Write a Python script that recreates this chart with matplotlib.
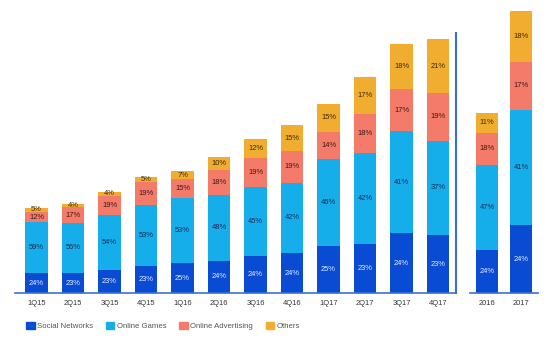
from matplotlib import pyplot as plt
import numpy as np

# quarterly revenue (RMB bn) and segment shares in %
quarters = ['1Q15', '2Q15', '3Q15', '4Q15', '1Q16', '2Q16', '3Q16', '4Q16',
            '1Q17', '2Q17', '3Q17', '4Q17']
q_total = [22.4, 23.4, 26.6, 30.5, 32.0, 35.7, 40.3, 43.9, 49.6, 56.6, 65.2, 66.4]
q_social = [24, 23, 23, 23, 25, 24, 24, 24, 25, 23, 24, 23]
q_games = [59, 56, 54, 53, 53, 48, 45, 42, 46, 42, 41, 37]
q_ads = [12, 17, 19, 19, 15, 18, 19, 19, 14, 18, 17, 19]
q_others = [5, 4, 4, 5, 7, 10, 12, 15, 15, 17, 18, 21]

years = ['2016', '2017']
y_total = [151.9, 237.8]
y_social = [24, 24]
y_games = [47, 41]
y_ads = [18, 17]
y_others = [11, 18]

names = ['Social Networks', 'Online Games', 'Online Advertising', 'Others']
colors = ['#0a4bd4', '#16aeea', '#f47b69', '#f1ad2f']
text_colors = ['#e6eeff', '#1b2b55', '#3a1a14', '#3a2a0a']
line_col = '#3a6fd2'
font = 'Liberation Sans'


def stacked(ax, labels, total, shares, width):
    x = np.arange(len(labels))
    bottom = np.zeros(len(labels))
    total = np.array(total)
    for s, c, tc in zip(shares, colors, text_colors):
        h = total * np.array(s) / 100.0
        ax.bar(x, h, width, bottom=bottom, color=c, linewidth=0)
        for xi, bi, hi, si in zip(x, bottom, h, s):
            ax.text(xi, bi + hi / 2, '%d%%' % si, ha='center', va='center',
                    fontsize=5.4, color=tc, family=font)
        bottom += h
    ax.set_xticks(x)
    ax.set_xticklabels(labels, fontsize=5.4, color='#333333', family=font)
    ax.tick_params(axis='x', length=0, pad=4.5)
    ax.set_yticks([])
    for sp in ['top', 'right', 'left']:
        ax.spines[sp].set_visible(False)
    ax.spines['bottom'].set_color(line_col)
    ax.spines['bottom'].set_linewidth(1.2)
    ax.set_facecolor('none')


fig = plt.figure(figsize=(5.58, 3.48), dpi=100)
base = (348 - 293.3) / 348
h = 293.3 / 348

ax1 = fig.add_axes([15 / 558, base, 441 / 558, h])
stacked(ax1, quarters, q_total, [q_social, q_games, q_ads, q_others], 0.62)
ax1.set_xlim(-0.59, 11.49)
ax1.set_ylim(0, 76.7)
ax1.axvline(11.49, ymin=0, ymax=0.887, color=line_col, lw=1.5, clip_on=False)

ax2 = fig.add_axes([470 / 558, base, 68 / 558, h])
stacked(ax2, years, y_total, [y_social, y_games, y_ads, y_others], 0.64)
ax2.set_xlim(-0.5, 1.49)
ax2.set_ylim(0, 246.8)

handles = [plt.Rectangle((0, 0), 1, 1, color=c) for c in colors]
fig.legend(handles, names, loc='center left', bbox_to_anchor=(19 / 558, 22 / 348),
           ncol=4, frameon=False, prop={'family': font, 'size': 5.6},
           labelcolor='#555555', handlelength=1.1, handleheight=1.1,
           handletextpad=0.35, columnspacing=1.6)

fig.savefig('out.png', dpi=100)
